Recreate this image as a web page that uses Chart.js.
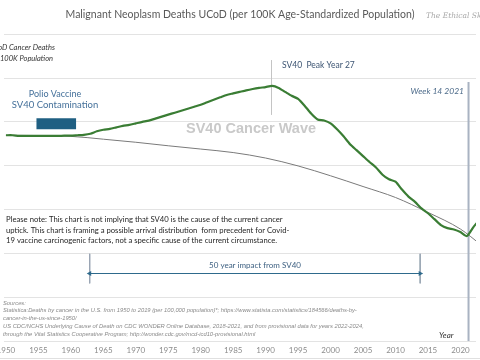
<!DOCTYPE html>
<html>
<head>
<meta charset="utf-8">
<script src="https://cdn.jsdelivr.net/npm/chart.js@4.4.1/dist/chart.umd.min.js"></script>
<style>
    body { margin: 0; background: white; }
    #cadre { width: 480px; height: 360px; }
</style>
</head>
<body>
<div id="cadre"><canvas id="canvasCancer" width="480" height="360"></canvas></div>
<script>
// données (taux pour 100K)
const annees = [1950, 1951, 1952, 1953, 1954, 1955, 1956, 1957, 1958, 1959,
    1960, 1961, 1962, 1963, 1964, 1965, 1966, 1967, 1968, 1969,
    1970, 1971, 1972, 1973, 1974, 1975, 1976, 1977, 1978, 1979,
    1980, 1981, 1982, 1983, 1984, 1985, 1986, 1987, 1988, 1989,
    1990, 1991, 1992, 1993, 1994, 1995, 1996, 1997, 1998, 1999,
    2000, 2001, 2002, 2003, 2004, 2005, 2006, 2007, 2008, 2009,
    2010, 2011, 2012, 2013, 2014, 2015, 2016, 2017, 2018, 2019,
    2020, 2021, 2022, 2023]
const deces = [193.9, 193.9, 193.6, 193.6, 193.6, 193.6, 193.6, 193.6, 193.6, 193.7,
    193.7, 193.9, 194.1, 194.6, 195.7, 196.4, 196.8, 197.5, 198.2, 198.6,
    199.3, 200.0, 200.6, 201.5, 202.4, 203.3, 204.2, 205.1, 206.0, 206.9,
    207.8, 209.0, 210.1, 211.2, 212.3, 213.0, 213.7, 214.4, 215.0, 215.5,
    215.9, 216.4, 215.5, 213.7, 211.9, 210.5, 207.4, 203.8, 201.1, 200.6,
    199.3, 196.6, 193.4, 189.8, 187.1, 184.4, 181.7, 179.2, 175.9, 173.8,
    172.7, 169.1, 165.9, 163.5, 160.5, 158.3, 155.6, 152.9, 151.5, 150.9,
    149.7, 147.9, 152.0, 155.6]

// courbe de référence (tendance sans vague SV40)
const anneesTendance = [1950, 1960, 1965, 1970, 1975, 1980, 1985, 1990, 1995, 2000, 2005, 2010, 2015, 2020, 2023]
const tendance = [193.9, 193.4, 192.1, 190.7, 189.1, 187.6, 186.0, 183.5, 179.9, 175.4, 170.5, 165.5, 158.7, 151.1, 144.3]

// repères
const polioAnnees = [1954.7, 1960.8]
const polioNiveau = 199.1
const piqueAnnee = 1990.9
const piqueBornes = [228.1, 203.3]
const semaine14 = 2021.25
const semaine14Bornes = [218.2, 100]
const impactAnnees = [1962.9, 2013.8]
const impactNiveau = 130.8
const impactBornes = [139.8, 126.3]

const ticksAnnees = [1950, 1955, 1960, 1965, 1970, 1975, 1980, 1985, 1990, 1995, 2000, 2005, 2010, 2015, 2020]
const ticksTaux = [100, 120, 140, 160, 180, 200, 220, 240]

const noteTexte = [
    "Please note: This chart is not implying that SV40 is the cause of the current cancer",
    "uptick. This chart is framing a possible arrival distribution  form precedent for Covid-",
    "19 vaccine carcinogenic factors, not a specific cause of the current circumstance."
]
const sourcesTexte = [
    "Sources:",
    "Statistica:Deaths by cancer in the U.S. from 1950 to 2019 (per 100,000 population)*; https://www.statista.com/statistics/184566/deaths-by-",
    "cancer-in-the-us-since-1950/",
    "US CDC/NCHS Underlying Cause of Death on CDC WONDER Online Database, 2018-2021, and from provisional data for years 2022-2024,",
    "through the Vital Statistics Cooperative Program; http://wonder.cdc.gov/mcd-icd10-provisional.html"
]

function points(xs, ys) {
    return xs.map((x, i) => ({x: x, y: ys[i]}))
}

function ecrire(ctx, texte, x, y, font, couleur, align) {
    ctx.font = font
    ctx.fillStyle = couleur
    ctx.textAlign = align || "left"
    ctx.textBaseline = "middle"
    ctx.fillText(texte, x, y)
}

// textes et cadre dessinés par dessus
const pluginTextes = {
    id: "textes",
    beforeDatasetsDraw(chart) {
        let ctx = chart.ctx
        ctx.save()
        ecrire(ctx, "SV40 Cancer Wave", 251, 129, "bold 14.5px Arial", "#c9c9c9", "center")
        ctx.restore()
    },
    afterDraw(chart) {
        let ctx = chart.ctx
        ctx.save()
        ecrire(ctx, "Malignant Neoplasm Deaths UCoD (per 100K Age-Standardized Population)", 240, 15, "10.5px Lato", "#595959", "center")
        ecrire(ctx, "The Ethical Skeptic", 426, 16, "italic 7.5px 'DejaVu Serif'", "#a8a8a8", "left")
        ecrire(ctx, "UCoD Cancer Deaths", 55, 48, "italic 7.5px Lato", "#333333", "right")
        ecrire(ctx, "per 100K Population", 53, 59, "italic 7.5px Lato", "#333333", "right")
        ecrire(ctx, "Polio Vaccine", 55, 94, "9px Lato", "#44709a", "center")
        ecrire(ctx, "SV40 Contamination", 55, 105, "9.5px Lato", "#44709a", "center")
        ecrire(ctx, "SV40  Peak Year 27", 282, 65, "8.5px Lato", "#3d5573", "left")
        ecrire(ctx, "Week 14 2021", 464, 91, "italic 8.5px Lato", "#4d6b8a", "right")
        noteTexte.forEach((ligne, i) => {
            ecrire(ctx, ligne, 6, [220, 230.5, 241][i], "7.7px Lato", "#262626", "left")
        })
        ecrire(ctx, "50 year impact from SV40", 255, 265, "8px Lato", "#3c5f80", "center")
        sourcesTexte.forEach((ligne, i) => {
            ecrire(ctx, ligne, 3, [303, 310.5, 318.5, 326.5, 334][i], "italic 5.8px Arial", "#8a8a8a", "left")
        })
        ecrire(ctx, "Year", 439, 335, "italic 8px Lato", "#333333", "left")
        // filet bas
        ctx.strokeStyle = "#e0e0e0"
        ctx.lineWidth = 1
        ctx.beginPath()
        ctx.moveTo(0, 358.5)
        ctx.lineTo(480, 358.5)
        ctx.stroke()
        ctx.restore()
    }
}

let canvas = document.getElementById("canvasCancer")
new Chart(canvas, {
    type: "line",
    data: {
        datasets: [
            {
                label: "Malignant Neoplasm Deaths",
                data: points(annees, deces),
                borderColor: "#3a7d34",
                borderWidth: 2.2,
                pointRadius: 0,
                tension: 0.2
            },
            {
                label: "Tendance",
                data: points(anneesTendance, tendance),
                borderColor: "#7a7a7a",
                borderWidth: 1,
                pointRadius: 0,
                cubicInterpolationMode: "monotone"
            },
            {
                label: "Polio",
                data: points(polioAnnees, [polioNiveau, polioNiveau]),
                borderColor: "#1f5f82",
                borderWidth: 11,
                borderCapStyle: "butt",
                pointRadius: 0
            },
            {
                label: "Pique",
                data: points([piqueAnnee, piqueAnnee], piqueBornes),
                borderColor: "#c4c4c4",
                borderWidth: 1,
                pointRadius: 0
            },
            {
                label: "Semaine 14",
                data: points([semaine14, semaine14], semaine14Bornes),
                borderColor: "#a9b3c2",
                borderWidth: 2,
                pointRadius: 0
            },
            {
                label: "Impact",
                data: points(impactAnnees, [impactNiveau, impactNiveau]),
                borderColor: "#2e6a8c",
                borderWidth: 1.2,
                pointStyle: "triangle",
                pointRadius: 3,
                pointRotation: [-90, 90],
                pointBackgroundColor: "#2e6a8c",
                pointBorderWidth: 0
            },
            {
                label: "Impact debut",
                data: points([impactAnnees[0], impactAnnees[0]], impactBornes),
                borderColor: "#9aa6b4",
                borderWidth: 1,
                pointRadius: 0
            },
            {
                label: "Impact fin",
                data: points([impactAnnees[1], impactAnnees[1]], impactBornes),
                borderColor: "#9aa6b4",
                borderWidth: 1,
                pointRadius: 0
            }
        ]
    },
    options: {
        responsive: false,
        animation: false,
        layout: { padding: 0 },
        scales: {
            x: {
                type: "linear",
                min: 1949.7,
                max: 2022.4,
                afterBuildTicks: function(scale) {
                    scale.ticks = ticksAnnees.map(v => ({value: v}))
                },
                afterFit: function(scale) {
                    scale.height = 19
                    scale.paddingLeft = 0
                    scale.paddingRight = 0
                },
                grid: { display: false, drawTicks: false },
                border: { display: false },
                ticks: {
                    autoSkip: false,
                    maxRotation: 0,
                    padding: 5,
                    color: "#8c8c8c",
                    font: { size: 8, family: "Lato" },
                    callback: function(value) {
                        return String(value)
                    }
                }
            },
            y: {
                min: 100,
                max: 253.8,
                afterBuildTicks: function(scale) {
                    scale.ticks = ticksTaux.map(v => ({value: v}))
                },
                afterFit: function(scale) {
                    scale.width = 0
                },
                grid: { color: "#e3e3e3", drawTicks: false },
                border: { display: false },
                ticks: { display: false }
            }
        },
        plugins: {
            legend: { display: false },
            tooltip: { enabled: false }
        }
    },
    plugins: [pluginTextes]
})
</script>
</body>
</html>
